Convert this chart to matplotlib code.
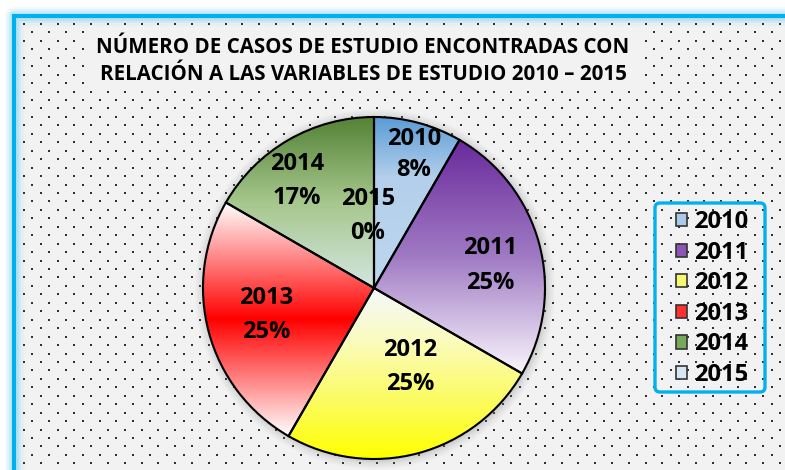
import numpy as np
import matplotlib
matplotlib.use("Agg")
import matplotlib.pyplot as plt
from matplotlib.colors import LinearSegmentedColormap
from matplotlib.patches import Rectangle, Circle, Patch, FancyBboxPatch

# ---- data ----
years = ["2010", "2011", "2012", "2013", "2014", "2015"]
cases = [1, 3, 3, 3, 2, 0]
pct_labels = ["8%", "25%", "25%", "25%", "17%", "0%"]
title = "NÚMERO DE CASOS DE ESTUDIO ENCONTRADAS CON\nRELACIÓN A LAS VARIABLES DE ESTUDIO 2010 – 2015"

# ---- styles ----
gradients = [
    [(0, "#5b9bd5"), (0.35, "#b3cfeb"), (1, "#bdd7ee")],
    [(0, "#6a2a9c"), (0.5, "#a07bc4"), (1, "#faf6fd")],
    [(0, "#f4f8fc"), (0.3, "#fbfbc0"), (0.7, "#fcfc55"), (1, "#ffff00")],
    [(0, "#ffffff"), (0.5, "#ff0000"), (1, "#ffffff")],
    [(0, "#548235"), (0.5, "#a6c78d"), (1, "#d3e6e2")],
    [(0, "#bdd7ee"), (1, "#eaf2fa")],
]
legend_colors = ["#a9cbe9", "#8a55b5", "#f8f870", "#ff3030", "#7aa85a", "#d6e6f4"]
# label offsets in units of radius (x right, y up)
label_offsets = [(0.234, 0.78), (0.678, 0.13), (0.211, -0.462),
                 (-0.632, -0.158), (-0.45, 0.626), (-0.035, 0.421)]
label_spacing = [1.35, 1.6, 1.6, 1.6, 1.6, 1.6]
FONT = "Open Sans"

W, H = 785, 470
fig = plt.figure(figsize=(W / 100, H / 100), dpi=100)
fig.patch.set_facecolor("white")
ax = fig.add_axes([0, 0, 1, 1])

cx, cy, R = 374, H - 288, 171

# background panel
ax.add_patch(Rectangle((13.5, -20), 900, H - 15.5 + 20, facecolor="#f2f2f2", edgecolor="none", zorder=0))
for lw, a in [(14, 0.05), (10, 0.08), (7, 0.12)]:
    ax.plot([13.5, 13.5, 900], [-20, H - 15.5, H - 15.5], color="#00b0f0", lw=lw, alpha=a,
            solid_joinstyle="round", zorder=0.5)
ax.plot([13.5, 13.5, 900], [-20, H - 15.5, H - 15.5], color="#00b0f0", lw=3, zorder=5,
        solid_joinstyle="miter")

# dot pattern
xs, ys = [], []
row = 0
y = H - 24
while y > 0:
    off = 0 if row % 2 == 0 else 8.4
    x = 24 + off
    while x < W:
        px_y = H - y
        if not (85 < x < 640 and 30 < px_y < 88):
            xs.append(x)
            ys.append(y)
        x += 16.8
    y -= 8.45
    row += 1
ax.scatter(xs, ys, s=1.3, color="#303030", marker="s", linewidths=0, zorder=1)

# pie shadow
for k, a in zip(range(8), np.linspace(0.06, 0.02, 8)):
    ax.add_patch(Circle((cx + 1, cy - 1), R + 1 + k * 1.2, facecolor="#808080", alpha=a,
                        edgecolor="none", zorder=1.5))

wedges, _ = ax.pie(cases, startangle=90, counterclock=False, center=(cx, cy), radius=R,
                   wedgeprops=dict(facecolor="none", edgecolor="black", linewidth=1.5, zorder=3))

grad = np.linspace(0, 1, 256).reshape(-1, 1)
for w, stops in zip(wedges, gradients):
    if w.theta2 - w.theta1 < 1e-6:
        continue
    th = np.radians(np.linspace(w.theta1, w.theta2, 200))
    px = np.concatenate([[cx], cx + R * np.cos(th)])
    py = np.concatenate([[cy], cy + R * np.sin(th)])
    cmap = LinearSegmentedColormap.from_list("g", stops)
    im = ax.imshow(grad, cmap=cmap, extent=(px.min(), px.max(), py.min(), py.max()),
                   origin="upper", aspect="auto", zorder=2, interpolation="bilinear")
    im.set_clip_path(w)

# labels
for (dx, dy), ls, yr, pc in zip(label_offsets, label_spacing, years, pct_labels):
    ax.text(cx + dx * R, cy + dy * R, f"{yr}\n{pc}", ha="center", va="center",
            fontsize=17, fontweight="bold", family=FONT, linespacing=ls, zorder=6)

ax.text(363, H - 61, title, ha="center", va="center", fontsize=14.8, fontweight="bold",
        family=FONT, linespacing=1.38, zorder=6)

# legend frame
ax.add_patch(FancyBboxPatch((655, H - 392), 110, 189, boxstyle="round,pad=0,rounding_size=5",
                            facecolor="none", edgecolor="#00b0f0", linewidth=2.4, zorder=7))
handles = [Patch(facecolor=c, edgecolor="#333333", linewidth=1.2) for c in legend_colors]
leg = ax.legend(handles, years, loc="upper left", bbox_to_anchor=(676 / W, 1 - 210 / H),
                bbox_transform=fig.transFigure, frameon=False,
                prop=dict(family=FONT, weight="bold", size=17),
                handlelength=0.48, handleheight=0.48, handletextpad=0.3,
                labelspacing=0.28, borderpad=0, borderaxespad=0)
leg.set_zorder(8)

ax.set_xlim(0, W)
ax.set_ylim(0, H)
ax.set_aspect("auto")
ax.axis("off")
fig.savefig("out.png", dpi=100)
